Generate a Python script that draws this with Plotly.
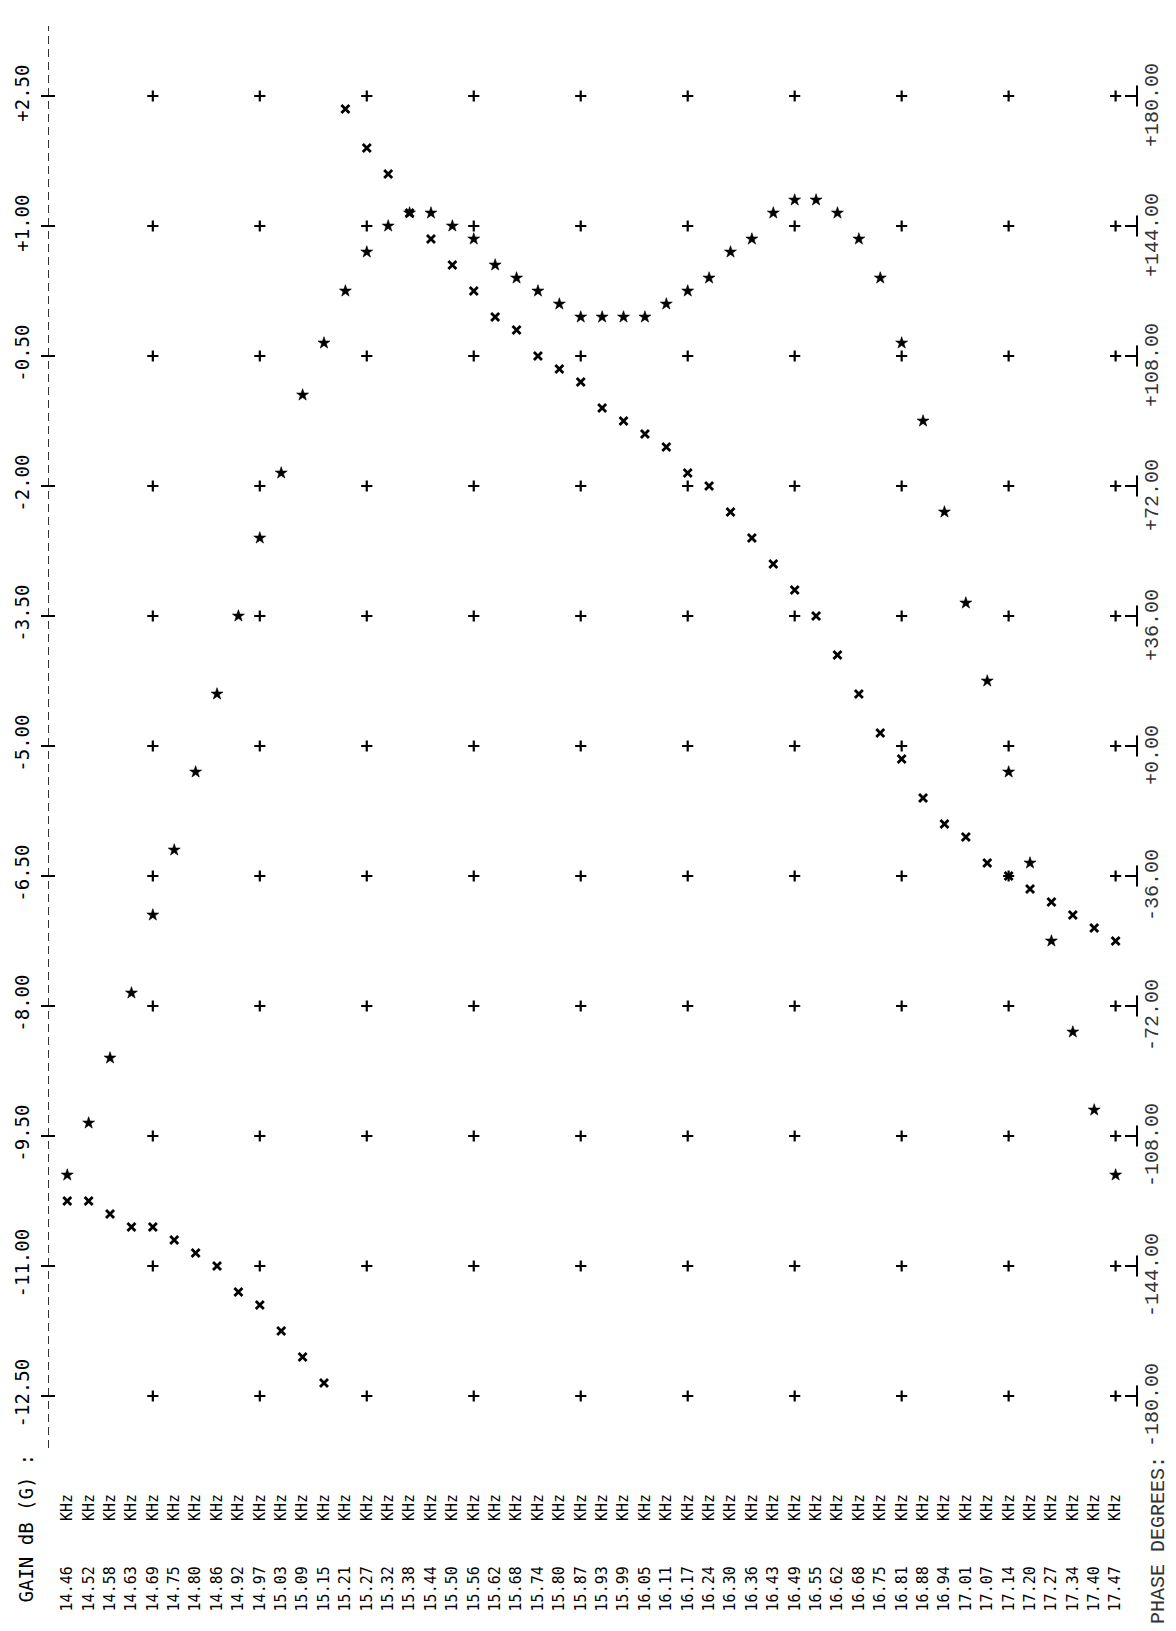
import plotly.graph_objects as go

# ---------------- data ----------------
freq_labels = ["14.46", "14.52", "14.58", "14.63", "14.69", "14.75", "14.80", "14.86", "14.92", "14.97",
               "15.03", "15.09", "15.15", "15.21", "15.27", "15.32", "15.38", "15.44", "15.50", "15.56",
               "15.62", "15.68", "15.74", "15.80", "15.87", "15.93", "15.99", "16.05", "16.11", "16.17",
               "16.24", "16.30", "16.36", "16.43", "16.49", "16.55", "16.62", "16.68", "16.75", "16.81",
               "16.88", "16.94", "17.01", "17.07", "17.14", "17.20", "17.27", "17.34", "17.40", "17.47"]

gain_db = [-9.95, -9.35, -8.60, -7.85, -6.95, -6.20, -5.30, -4.40, -3.50, -2.60,
           -1.85, -0.95, -0.35, 0.25, 0.70, 1.00, 1.15, 1.15, 1.00, 0.85,
           0.55, 0.40, 0.25, 0.10, -0.05, -0.05, -0.05, -0.05, 0.10, 0.25,
           0.40, 0.70, 0.85, 1.15, 1.30, 1.30, 1.15, 0.85, 0.40, -0.35,
           -1.25, -2.30, -3.35, -4.25, -5.30, -6.35, -7.25, -8.30, -9.20, -9.95]

phase_deg = [-126.0, -126.0, -129.6, -133.2, -133.2, -136.8, -140.4, -144.0, -151.2, -154.8,
             -162.0, -169.2, -176.4, 176.4, 165.6, 158.4, 147.6, 140.4, 133.2, 126.0,
             118.8, 115.2, 108.0, 104.4, 100.8, 93.6, 90.0, 86.4, 82.8, 75.6,
             72.0, 64.8, 57.6, 50.4, 43.2, 36.0, 25.2, 14.4, 3.6, -3.6,
             -14.4, -21.6, -25.2, -32.4, -36.0, -39.6, -43.2, -46.8, -50.4, -54.0]

gain_ticks = [-12.5, -11.0, -9.5, -8.0, -6.5, -5.0, -3.5, -2.0, -0.5, 1.0, 2.5]
gain_ticktext = ["-12.50", "-11.00", "-9.50", "-8.00", "-6.50", "-5.00",
                 "-3.50", "-2.00", "-0.50", "+1.00", "+2.50"]
phase_ticks = [-180, -144, -108, -72, -36, 0, 36, 72, 108, 144, 180]
phase_ticktext = ["-180.00", "-144.00", "-108.00", "-72.00", "-36.00", "+0.00",
                  "+36.00", "+72.00", "+108.00", "+144.00", "+180.00"]

freq_unit = "KHz"
gain_title = "GAIN dB (G) :"
phase_title = "PHASE DEGREES:"

# ---------------- layout geometry ----------------
W, H = 1176, 1631
ML, MR, MT, MB = 40, 47, 18, 191
plot_w = W - ML - MR
plot_h = H - MT - MB

n = len(freq_labels)
idx = list(range(n))
x_lo, x_hi = -0.9, n
g_lo, g_hi = -13.1, 3.3077


def g2p(g):
    # gain and phase scales share the same tick rows
    return -180 + (g + 12.5) * 24


p_lo, p_hi = g2p(g_lo), g2p(g_hi)

grid_cols = [i for i in idx if i % 5 == 4]
grid_x = [c for c in grid_cols for _ in gain_ticks]
grid_y = [g for _ in grid_cols for g in gain_ticks]

tick_text_x = [f + "\u00a0" * 5 + freq_unit for f in freq_labels]

mono = "DejaVu Sans Mono"
mono2 = "Liberation Mono"

fig = go.Figure()

# grid crosses
fig.add_trace(go.Scatter(
    x=grid_x, y=grid_y, mode="markers", hoverinfo="skip",
    marker=dict(symbol="cross-thin", size=8, line=dict(width=2.2, color="black")),
))
# left axis crosses
fig.add_trace(go.Scatter(
    x=[x_lo] * len(gain_ticks), y=gain_ticks, mode="markers", hoverinfo="skip", cliponaxis=False,
    marker=dict(symbol="line-ew", size=10, line=dict(width=2, color="black")),
))
# right axis bars
fig.add_trace(go.Scatter(
    x=[x_hi] * len(phase_ticks), y=phase_ticks, yaxis="y2", mode="markers", hoverinfo="skip",
    cliponaxis=False,
    marker=dict(symbol="line-ns", size=15, line=dict(width=2, color="black")),
))
# gain points
fig.add_trace(go.Scatter(
    x=idx, y=gain_db, mode="markers", name="Gain dB",
    marker=dict(symbol="star", size=9, color="black", line=dict(width=0.6, color="black")),
))
# phase points
fig.add_trace(go.Scatter(
    x=idx, y=phase_deg, yaxis="y2", mode="markers", name="Phase",
    marker=dict(symbol="x-thin", size=8, line=dict(width=2.8, color="black")),
))

fig.update_layout(
    width=W, height=H,
    margin=dict(l=ML, r=MR, t=MT, b=MB, pad=0),
    paper_bgcolor="white", plot_bgcolor="white",
    showlegend=False,
    xaxis=dict(
        range=[x_lo, x_hi], tickmode="array", tickvals=idx, ticktext=tick_text_x,
        tickangle=-90, showgrid=False, zeroline=False, showline=False, ticks="",
        tickfont=dict(family=mono, size=15, color="black"),
        ticklabelstandoff=42, automargin=False,
    ),
    yaxis=dict(
        range=[g_lo, g_hi], tickmode="array", tickvals=gain_ticks, ticktext=gain_ticktext,
        tickangle=-90, showgrid=False, zeroline=False, showline=False, ticks="",
        tickfont=dict(family=mono, size=19, color="black"),
        ticklabelstandoff=14, automargin=False,
    ),
    yaxis2=dict(
        range=[p_lo, p_hi], overlaying="y", side="right", anchor="x",
        tickmode="array", tickvals=phase_ticks, ticktext=phase_ticktext,
        tickangle=-90, showgrid=False, zeroline=False, showline=False,
        ticks="inside", ticklen=12, tickwidth=1.5, tickcolor="black",
        tickfont=dict(family=mono2, size=20, color="#333333"),
        ticklabelstandoff=0, ticklabelshift=12, automargin=False,
    ),
    shapes=[dict(
        type="line", xref="x", yref="paper", x0=x_lo, x1=x_lo, y0=0, y1=1,
        line=dict(color="black", width=1.6, dash="8px,5px"),
    )],
    annotations=[
        dict(text=gain_title, textangle=-90, showarrow=False,
             xref="paper", yref="paper",
             x=(17 - ML) / plot_w, y=(plot_h + MT - 1597) / plot_h,
             xanchor="center", yanchor="bottom",
             font=dict(family=mono, size=19, color="black")),
        dict(text=phase_title, textangle=-90, showarrow=False,
             xref="paper", yref="paper",
             x=(1150 - ML) / plot_w, y=(plot_h + MT - 1618) / plot_h,
             xanchor="center", yanchor="bottom",
             font=dict(family=mono2, size=20, color="#333333")),
    ],
)

fig.write_html("out.html")
